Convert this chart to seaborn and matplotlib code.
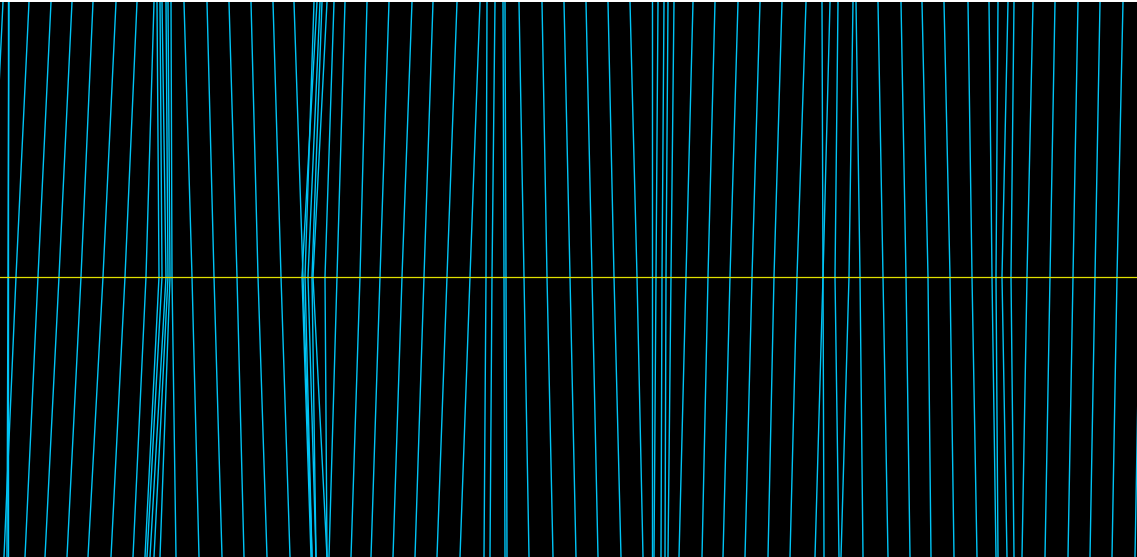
import pandas as pd
import matplotlib
matplotlib.use("Agg")
import matplotlib.pyplot as plt
import seaborn as sns

# x position of each sweep where it leaves the top edge, crosses the
# trigger level and reaches the bottom edge
trace_top = [3, 8, 9, 29, 51, 72, 93, 116, 137,
             154, 157, 160, 162, 166, 168, 171,
             184, 207, 229, 251, 273, 294,
             314, 317, 320, 322, 327, 334, 345, 367,
             389, 412, 433, 457, 480,
             487, 495, 503, 505,
             519, 542, 564, 586, 608, 630,
             652, 658, 664, 668, 674,
             693, 715, 738, 760, 782, 806,
             822, 830, 838, 853, 856,
             878, 901, 922, 944, 968, 989,
             998, 1008, 1014,
             1033, 1055, 1078, 1100, 1123, 1146]
trace_mid = [-10, 8, 8, 16, 38, 59, 81, 103, 125,
             146, 159, 162, 166, 168, 170, 172,
             192, 214, 237, 258, 281, 303,
             305, 302, 308, 312, 313, 325, 337, 360,
             380, 402, 424, 447, 470,
             486, 492, 504, 506,
             524, 547, 570, 592, 614, 637,
             652, 656, 662, 666, 671,
             686, 708, 730, 752, 774, 797,
             823, 823, 835, 849, 860,
             883, 906, 928, 950, 972, 992,
             996, 1002, 1011,
             1027, 1050, 1073, 1095, 1117, 1140]
trace_bottom = [-22, 8, 7, 4, 25, 45, 67, 88, 111,
                133, 145, 147, 150, 154, 160, 176,
                199, 222, 244, 267, 290, 312,
                312, 311, 316, 316, 327, 327, 329, 351,
                371, 393, 415, 437, 460,
                484, 490, 505, 507,
                529, 553, 576, 598, 621, 643,
                652, 654, 661, 665, 668,
                679, 702, 723, 745, 768, 790,
                824, 815, 839, 841, 863,
                888, 910, 931, 954, 977, 996,
                998, 1007, 1014,
                1022, 1045, 1068, 1090, 1112, 1135]

screen_top = 1.0
screen_bottom = -1.0
trigger_level = 0.01

rows = []
for i, (xt, xm, xb) in enumerate(zip(trace_top, trace_mid, trace_bottom)):
    rows.append({"sweep": i, "x": xt, "y": screen_top})
    rows.append({"sweep": i, "x": xm, "y": trigger_level})
    rows.append({"sweep": i, "x": xb, "y": screen_bottom})
df = pd.DataFrame(rows)

fig = plt.figure(figsize=(11.37, 5.57), dpi=100, facecolor="white")
ax = fig.add_axes([0, 0, 1, 555 / 557])
ax.set_facecolor("black")

sns.lineplot(data=df, x="x", y="y", units="sweep", estimator=None,
             sort=False, color="#00c4f5", lw=1.0, ax=ax, legend=False)
ax.axhline(trigger_level, color="#e0e000", lw=0.9)

ax.set_xlim(0, 1137)
ax.set_ylim(screen_bottom, screen_top)
ax.set_xticks([])
ax.set_yticks([])
ax.set_xlabel("")
ax.set_ylabel("")
for s in ax.spines.values():
    s.set_visible(False)

fig.savefig("out.png", dpi=100, facecolor="white")
